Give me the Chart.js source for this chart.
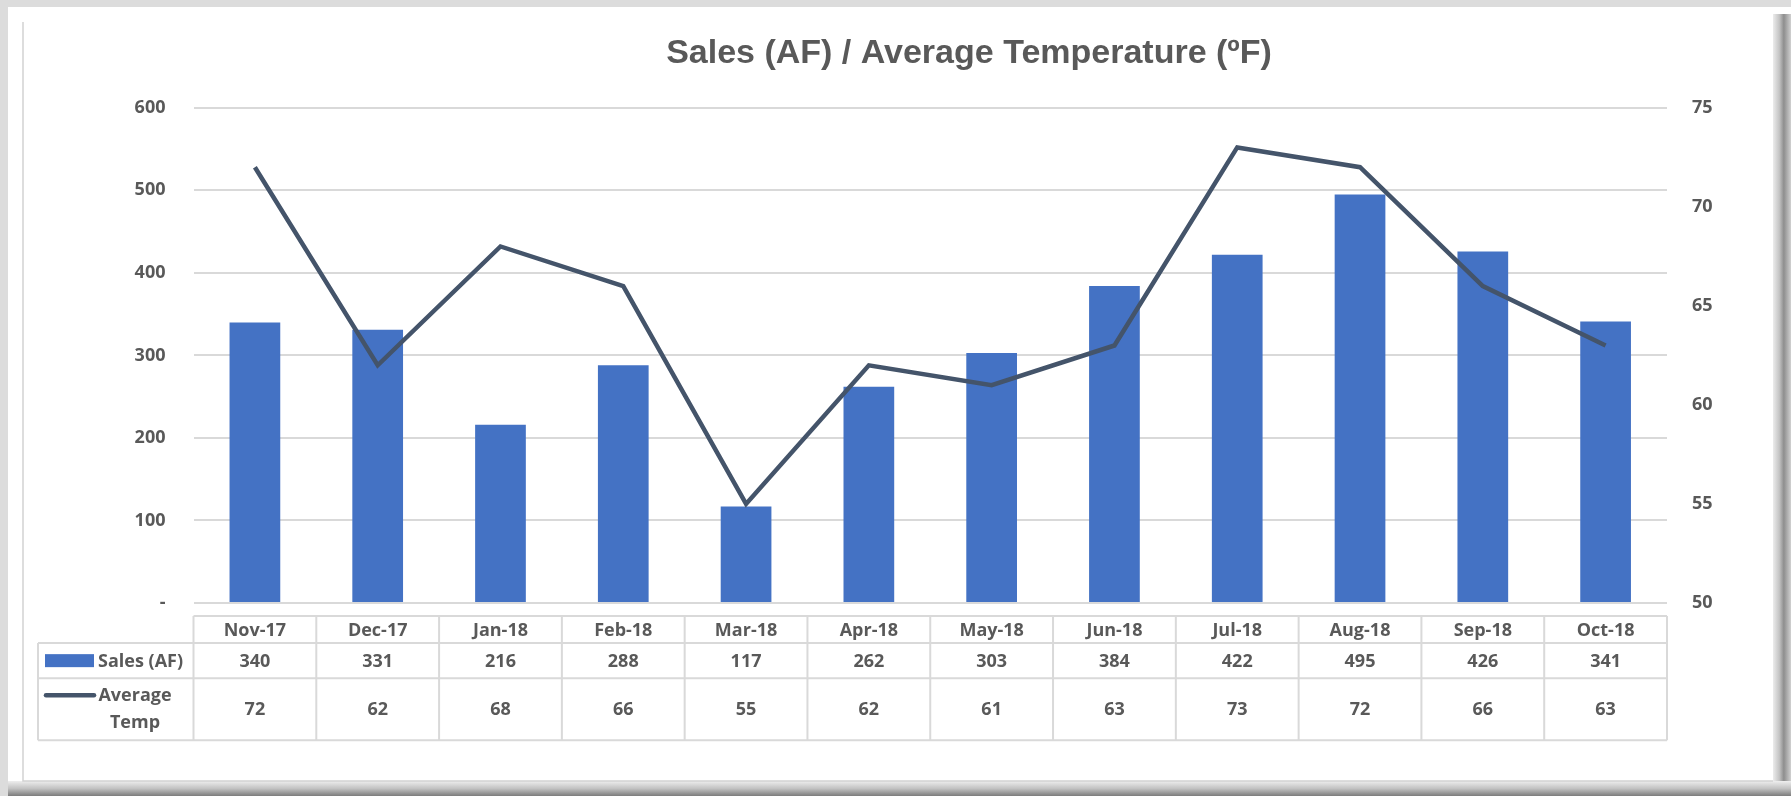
<!DOCTYPE html>
<html>
<head>
<meta charset="utf-8">
<title>Sales (AF) / Average Temperature (ºF)</title>
<script src="https://cdn.jsdelivr.net/npm/chart.js@4.4.1/dist/chart.umd.min.js"></script>
<style>
  html, body { margin: 0; padding: 0; background: #fff; }
  canvas { display: block; }
</style>
</head>
<body>
<canvas id="chart" width="1791" height="796"></canvas>
<script>
const months = ['Nov-17', 'Dec-17', 'Jan-18', 'Feb-18', 'Mar-18', 'Apr-18',
                'May-18', 'Jun-18', 'Jul-18', 'Aug-18', 'Sep-18', 'Oct-18'];
const salesAF = [340, 331, 216, 288, 117, 262, 303, 384, 422, 495, 426, 341];
const avgTemp = [72, 62, 68, 66, 55, 62, 61, 63, 73, 72, 66, 63];
const seriesNames = ['Sales (AF)', 'Average Temp'];

const TEXT = '#595959';
const GRID = '#d9d9d9';
const BAR = '#4472c4';
const LINE = '#44546a';
const FONT = '"Open Sans", Lato, sans-serif';

// picture-frame look of the original export
const framePlugin = {
    id: 'frame',
    beforeDraw(chart) {
        const {ctx, width, height} = chart;
        ctx.save();
        ctx.fillStyle = '#ffffff';
        ctx.fillRect(0, 0, width, height);
        ctx.fillStyle = '#dcdcdc';
        ctx.fillRect(0, 0, width, 7);
        ctx.fillRect(0, 0, 8, height);
        let g = ctx.createLinearGradient(1773, 0, width, 0);
        g.addColorStop(0, '#ececec');
        g.addColorStop(0.35, '#c4c4c4');
        g.addColorStop(0.6, '#8e8e8e');
        g.addColorStop(1, '#d0d0d0');
        ctx.fillStyle = g;
        ctx.fillRect(1773, 14, width - 1773, height - 14);
        g = ctx.createLinearGradient(0, 781, 0, height);
        g.addColorStop(0, '#eeeeee');
        g.addColorStop(0.5, '#c2c2c2');
        g.addColorStop(1, '#7c7c7c');
        ctx.fillStyle = g;
        ctx.fillRect(8, 781, width - 8, height - 781);
        ctx.strokeStyle = '#d2d2d2';
        ctx.lineWidth = 1.5;
        ctx.beginPath();
        ctx.moveTo(23, 22);
        ctx.lineTo(23, 781);
        ctx.lineTo(1773, 781);
        ctx.stroke();
        ctx.restore();
    }
};

// Excel-style data table under the plot, columns taken from the x scale
const dataTablePlugin = {
    id: 'dataTable',
    afterDraw(chart) {
        const {ctx, chartArea} = chart;
        const xScale = chart.scales.x;
        const colW = (chartArea.right - chartArea.left) / months.length;
        const left = 38;
        const top = chartArea.bottom + 13;
        const rows = [top, top + 27, top + 62.3, top + 124.3];

        ctx.save();
        ctx.strokeStyle = GRID;
        ctx.lineWidth = 2;
        ctx.beginPath();
        ctx.moveTo(chartArea.left, rows[0]);
        ctx.lineTo(chartArea.right, rows[0]);
        for (let r = 1; r < rows.length; r++) {
            ctx.moveTo(left, rows[r]);
            ctx.lineTo(chartArea.right, rows[r]);
        }
        ctx.moveTo(left, rows[1]);
        ctx.lineTo(left, rows[3]);
        for (let i = 0; i <= months.length; i++) {
            const cx = chartArea.left + i * colW;
            ctx.moveTo(cx, rows[0]);
            ctx.lineTo(cx, rows[3]);
        }
        ctx.stroke();

        ctx.fillStyle = TEXT;
        ctx.font = 'bold 18px ' + FONT;
        ctx.textAlign = 'center';
        ctx.textBaseline = 'middle';
        months.forEach((m, i) => {
            const cx = xScale.getPixelForValue(i);
            ctx.fillText(m, cx, (rows[0] + rows[1]) / 2 + 1);
            ctx.fillText(String(salesAF[i]), cx, (rows[1] + rows[2]) / 2 + 1);
            ctx.fillText(String(avgTemp[i]), cx, (rows[2] + rows[3]) / 2 + 1);
        });

        // legend keys in the first column
        ctx.fillStyle = BAR;
        ctx.fillRect(45, (rows[1] + rows[2]) / 2 - 6.5, 49, 13);
        ctx.fillStyle = TEXT;
        ctx.textAlign = 'left';
        ctx.fillText(seriesNames[0], 98, (rows[1] + rows[2]) / 2 + 1);

        ctx.strokeStyle = LINE;
        ctx.lineWidth = 4.5;
        ctx.lineCap = 'round';
        ctx.beginPath();
        ctx.moveTo(46, rows[2] + 17);
        ctx.lineTo(94, rows[2] + 17);
        ctx.stroke();
        ctx.textAlign = 'center';
        const words = seriesNames[1].split(' ');
        ctx.fillText(words[0], 135, rows[2] + 18);
        ctx.fillText(words[1], 135, rows[2] + 45);
        ctx.restore();
    }
};

const ctx = document.getElementById('chart').getContext('2d');
new Chart(ctx, {
    type: 'bar',
    data: {
        labels: months,
        datasets: [{
            label: seriesNames[0],
            data: salesAF,
            backgroundColor: BAR,
            borderWidth: 0,
            yAxisID: 'y',
            categoryPercentage: 1,
            barPercentage: 0.413,
            order: 2
        }, {
            type: 'line',
            label: seriesNames[1],
            data: avgTemp,
            borderColor: LINE,
            borderWidth: 4.5,
            pointRadius: 0,
            tension: 0,
            fill: false,
            yAxisID: 'y1',
            order: 1
        }]
    },
    options: {
        responsive: false,
        animation: false,
        // negative right padding pushes the title centre right, as in the original
        layout: {padding: {left: 0, right: -147, top: 10, bottom: 193}},
        plugins: {
            legend: {display: false},
            tooltip: {enabled: false},
            title: {
                display: true,
                text: 'Sales (AF) / Average Temperature (ºF)',
                color: TEXT,
                font: {family: '"Liberation Sans", Arial, sans-serif', size: 34, weight: 'bold'},
                padding: {top: 23, bottom: 34}
            }
        },
        scales: {
            x: {display: false},
            y: {
                position: 'left',
                min: 0,
                max: 600,
                afterFit: s => { s.width = 193.5; },
                grid: {color: GRID, lineWidth: 2, drawTicks: false},
                border: {display: false},
                ticks: {
                    stepSize: 100,
                    padding: 28,
                    color: TEXT,
                    font: {family: FONT, size: 18, weight: 'bold'},
                    callback: v => v === 0 ? '-' : v
                }
            },
            y1: {
                position: 'right',
                min: 50,
                max: 75,
                afterFit: s => { s.width = 271; },
                grid: {display: false, drawTicks: false},
                border: {display: false},
                ticks: {
                    stepSize: 5,
                    padding: 25,
                    color: TEXT,
                    font: {family: FONT, size: 18, weight: 'bold'}
                }
            }
        }
    },
    plugins: [framePlugin, dataTablePlugin]
});
</script>
</body>
</html>
